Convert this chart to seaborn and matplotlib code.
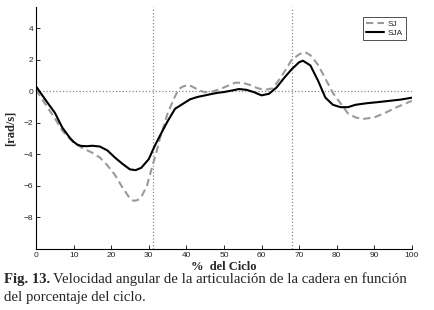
import matplotlib
matplotlib.use('Agg')
import matplotlib.pyplot as plt
import pandas as pd
import seaborn as sns

# SJ curve (gray dashed)
sj_x = [0, 3, 5, 7, 10, 12, 15, 17, 19, 21, 23, 25, 26, 27, 28, 29.5, 31, 32, 33, 34,
        35, 36, 37, 38, 39, 40.5, 42, 43.5, 45, 47, 49, 51, 53, 55, 57, 59, 61, 63, 65,
        66.5, 68, 70, 71.5, 73, 75, 77, 79, 81, 83, 85, 87, 90, 93, 96, 100]
sj_y = [0.1, -1.0, -1.7, -2.5, -3.25, -3.55, -3.9, -4.2, -4.7, -5.3, -6.1, -6.8, -6.95, -6.9,
        -6.7, -6.0, -4.7, -3.9, -2.95, -2.2, -1.4, -0.85, -0.3, 0.15, 0.3, 0.42, 0.25, 0.05,
        -0.05, 0.0, 0.15, 0.35, 0.55, 0.55, 0.4, 0.2, 0.1, 0.2, 0.85, 1.4, 2.0, 2.35, 2.5,
        2.3, 1.7, 0.8, -0.1, -0.75, -1.4, -1.65, -1.75, -1.65, -1.35, -1.0, -0.6]

# SJA curve (black solid)
sja_x = [0, 3, 5, 7, 9, 10, 11, 12, 13.5, 15, 17, 19, 21, 23, 25, 26.5, 28, 30, 31.5, 33,
         35, 37, 39, 41, 43, 45, 48, 50, 52, 54, 56, 58, 60, 62, 64, 66, 68, 70, 71, 73,
         75, 77, 79, 81, 83, 85, 88, 91, 94, 97, 100]
sja_y = [0.32, -0.7, -1.35, -2.3, -2.95, -3.2, -3.38, -3.46, -3.48, -3.45, -3.5, -3.75, -4.2,
         -4.6, -4.95, -5.0, -4.85, -4.3, -3.5, -2.8, -1.9, -1.1, -0.8, -0.5, -0.35, -0.25,
         -0.1, -0.04, 0.05, 0.15, 0.1, -0.05, -0.25, -0.15, 0.25, 0.85, 1.4, 1.85, 1.95, 1.65,
         0.7, -0.4, -0.85, -1.0, -1.0, -0.85, -0.75, -0.68, -0.6, -0.52, -0.4]

# vertical reference lines (% of cycle)
events = [31, 68]

x_ticks = [0, 10, 20, 30, 40, 50, 60, 70, 80, 90, 100]
y_ticks = [-8, -6, -4, -2, 0, 2, 4]

sns.set_style("ticks")
plt.rcParams['font.family'] = ['Liberation Sans', 'DejaVu Sans']

fig = plt.figure(figsize=(4.34, 3.10), dpi=100)
ax = fig.add_axes([0.083, 0.197, 0.866, 0.78])

sj = pd.DataFrame({'x': sj_x, 'y': sj_y})
sja = pd.DataFrame({'x': sja_x, 'y': sja_y})

sns.lineplot(data=sj, x='x', y='y', ax=ax, color='#9a9a9a', linewidth=1.5,
             linestyle=(0, (3.5, 2)), label='SJ')
sns.lineplot(data=sja, x='x', y='y', ax=ax, color='black', linewidth=1.5, label='SJA',
             solid_joinstyle='round')

# reference lines
ax.axhline(0, color='#888888', linestyle=':', linewidth=0.9, zorder=0)
for e in events:
    ax.axvline(e, color='#888888', linestyle=':', linewidth=0.9, zorder=0)

ax.set_xlim(0, 100)
ax.set_ylim(-10, 5.35)
ax.set_xticks(x_ticks)
ax.set_yticks(y_ticks)
ax.tick_params(direction='in', length=3, width=0.7, labelsize=6, pad=2)
sns.despine(ax=ax)
for s in ['left', 'bottom']:
    ax.spines[s].set_linewidth(0.8)
    ax.spines[s].set_color('black')

ax.set_xlabel('%  del Ciclo', family='Liberation Serif', fontweight='bold',
              fontsize=9, labelpad=2)
ax.set_ylabel('[rad/s]', family='Liberation Serif', fontweight='bold',
              fontsize=9, labelpad=5)

leg = ax.legend(loc='upper right', bbox_to_anchor=(0.995, 0.975), fontsize=6,
                frameon=True, fancybox=False, edgecolor='black', handlelength=2.2,
                borderpad=0.3, labelspacing=0.2, handletextpad=0.5)
leg.get_frame().set_linewidth(0.6)

# caption below the chart
fig.canvas.draw()
renderer = fig.canvas.get_renderer()
t1 = fig.text(4 / 434, 1 - 279 / 310, 'Fig. 13.', family='Liberation Serif',
              fontweight='bold', fontsize=10.6, va='center', ha='left')
bb = t1.get_window_extent(renderer)
fig.text((bb.x1 + 3) / 434, 1 - 279 / 310,
         'Velocidad angular de la articulación de la cadera en función',
         family='Liberation Serif', fontsize=10.6, va='center', ha='left')
fig.text(4 / 434, 1 - 297 / 310, 'del porcentaje del ciclo.',
         family='Liberation Serif', fontsize=10.6, va='center', ha='left')

fig.savefig('out.png', dpi=100)
